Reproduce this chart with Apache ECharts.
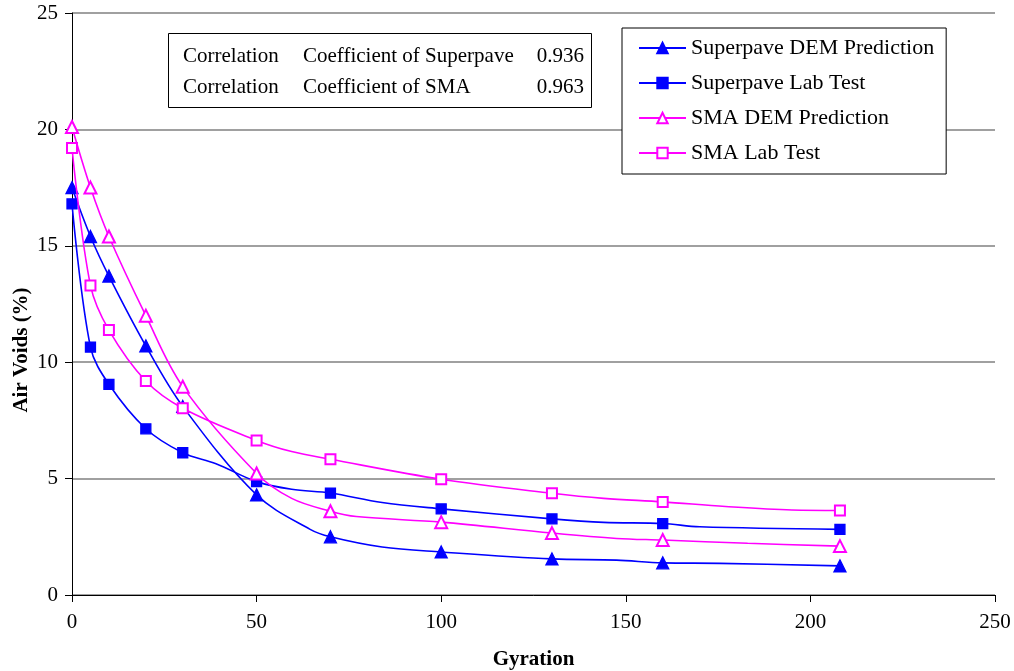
<!DOCTYPE html>
<html>
<head>
<meta charset="utf-8">
<script src="https://cdn.jsdelivr.net/npm/echarts@6/dist/echarts.min.js"></script>
<style>html,body{margin:0;padding:0;background:#fff}#c{width:1014px;height:671px}</style>
</head>
<body>
<div id="c"></div>
<script>
// ---- data ----
const xTicks = [0, 50, 100, 150, 200, 250];
const yTicks = [0, 5, 10, 15, 20, 25];
const seriesNames = ['Superpave DEM Prediction', 'Superpave Lab Test', 'SMA DEM Prediction', 'SMA Lab Test'];

// measured (marked) points [gyration, air voids %]
const spDemMarkers = [[0,17.5],[5,15.4],[10,13.7],[20,10.7],[30,8.1],[50,4.3],[70,2.5],[100,1.85],[130,1.55],[160,1.38],[208,1.25]];
const spLabMarkers = [[0,16.8],[5,10.65],[10,9.05],[20,7.14],[30,6.11],[50,4.87],[70,4.38],[100,3.7],[130,3.27],[160,3.07],[208,2.82]];
const smaDemMarkers = [[0,20.1],[5,17.5],[10,15.4],[20,12.0],[30,8.95],[50,5.22],[70,3.6],[100,3.13],[130,2.66],[160,2.36],[208,2.1]];
const smaLabMarkers = [[0,19.2],[5,13.3],[10,11.38],[20,9.19],[30,8.02],[50,6.64],[70,5.83],[100,4.97],[130,4.37],[160,4.0],[208,3.63]];

// extra unmarked points on each curve
const spDemTrace = [[64.5,2.82],[84,2.06],[147.5,1.5],[175.5,1.36]];
const spLabTrace = [[39,5.64],[59.5,4.54],[84,3.97],[144,3.12],[170,2.93]];
const smaDemTrace = [[59.5,4.15],[77,3.37],[147.5,2.43],[183,2.22]];
const smaLabTrace = [[59.5,6.16],[144,4.15],[177,3.8],[195,3.65]];

const corrLabels = ['Correlation', 'Correlation'];
const corrNames = ['Coefficient of Superpave', 'Coefficient of SMA'];
const corrValues = ['0.936', '0.963'];

// ---- build ----
const FONT = '"Liberation Serif", "Times New Roman", serif';
function merge(markers, trace) {
  const all = markers.map(p => ({ value: p }))
    .concat(trace.map(p => ({ value: p, symbol: 'none' })));
  all.sort((a, b) => a.value[0] - b.value[0]);
  return all;
}
const BLUE = '#0000ff', MAG = '#ff00ff';
const defs = [
  { m: spDemMarkers, t: spDemTrace, color: BLUE, symbol: 'triangle', size: 12 },
  { m: spLabMarkers, t: spLabTrace, color: BLUE, symbol: 'rect', size: 10 },
  { m: smaDemMarkers, t: smaDemTrace, color: MAG, symbol: 'emptyTriangle', size: 12 },
  { m: smaLabMarkers, t: smaLabTrace, color: MAG, symbol: 'emptyRect', size: 10 }
];
const series = defs.map((d, i) => ({
  name: seriesNames[i],
  type: 'line',
  data: merge(d.m, d.t),
  smooth: 0.35,
  symbol: d.symbol,
  symbolSize: d.size,
  showAllSymbol: true,
  color: d.color,
  lineStyle: { color: d.color, width: 1.6 },
  itemStyle: { color: d.color, borderColor: d.color, borderWidth: 1.3 },
  z: 3 + i
}));

const graphic = [{
  type: 'rect', left: 168, top: 33,
  shape: { width: 423, height: 74 },
  style: { fill: '#fff', stroke: '#000', lineWidth: 1 }, z: 10
}];
const rowsY = [56, 87];
rowsY.forEach((y, i) => {
  graphic.push({ type: 'text', x: 183, y: y, z: 11,
    style: { text: corrLabels[i], font: '21px ' + FONT, fill: '#000', align: 'left', verticalAlign: 'middle' } });
  graphic.push({ type: 'text', x: 303, y: y, z: 11,
    style: { text: corrNames[i], font: '21px ' + FONT, fill: '#000', align: 'left', verticalAlign: 'middle' } });
  graphic.push({ type: 'text', x: 584, y: y, z: 11,
    style: { text: corrValues[i], font: '21px ' + FONT, fill: '#000', align: 'right', verticalAlign: 'middle' } });
});

const chart = echarts.init(document.getElementById('c'), null, { renderer: 'canvas' });
chart.setOption({
  backgroundColor: '#fff',
  animation: false,
  grid: { left: 72, right: 19, top: 13, bottom: 76, containLabel: false, outerBoundsMode: 'none' },
  legend: {
    orient: 'vertical', left: 622, top: 28,
    padding: [9, 12, 10, 16],
    backgroundColor: '#fff', borderColor: '#000', borderWidth: 1, borderRadius: 0,
    itemWidth: 47, itemHeight: 13, itemGap: 13,
    textStyle: { fontFamily: FONT, fontSize: 22, color: '#000', lineHeight: 22 },
    data: seriesNames,
    z: 20
  },
  xAxis: {
    type: 'value', min: xTicks[0], max: xTicks[xTicks.length - 1], interval: 50,
    name: 'Gyration', nameLocation: 'middle', nameGap: 54,
    nameTextStyle: { fontFamily: FONT, fontSize: 21, fontWeight: 'bold', color: '#000' },
    axisLine: { show: true, onZero: false, lineStyle: { color: '#000', width: 1 } },
    axisTick: { show: true, inside: false, length: 7, lineStyle: { color: '#000' } },
    axisLabel: { fontFamily: FONT, fontSize: 21, color: '#000', margin: 17 },
    splitLine: { show: false }
  },
  yAxis: {
    type: 'value', min: yTicks[0], max: yTicks[yTicks.length - 1], interval: 5,
    name: 'Air Voids (%)', nameLocation: 'middle', nameGap: 40, nameRotate: 90,
    nameMoveOverlap: false,
    nameTextStyle: { fontFamily: FONT, fontSize: 21, fontWeight: 'bold', color: '#000', padding: [0, 92, 0, 0] },
    axisLine: { show: true, lineStyle: { color: '#000', width: 1 } },
    axisTick: { show: true, inside: false, length: 7, lineStyle: { color: '#000' } },
    axisLabel: { fontFamily: FONT, fontSize: 21, color: '#000', margin: 14 },
    splitLine: { show: true, lineStyle: { color: '#808080', width: 1.5 } }
  },
  graphic: graphic,
  series: series
});
</script>
</body>
</html>
